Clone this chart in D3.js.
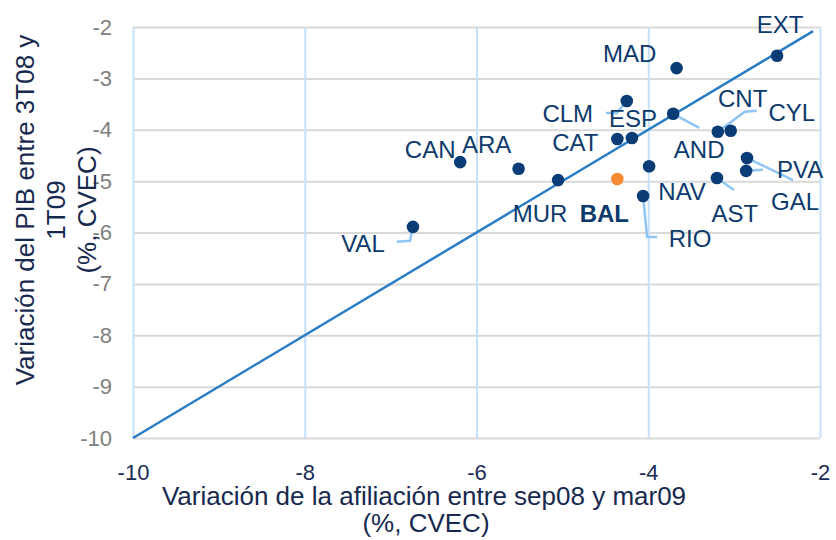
<!DOCTYPE html>
<html>
<head>
<meta charset="utf-8">
<script src="https://cdn.jsdelivr.net/npm/d3@7"></script>
<style>
  body { margin: 0; background: #fff; }
  svg { display: block; font-family: "Liberation Sans", Arial, sans-serif; }
</style>
</head>
<body>
<svg id="chart" width="836" height="540"></svg>
<script>
// Data: regional change in employment (x) vs GDP (y), % CVEC
const regions    = ['EXT', 'MAD', 'CLM', 'AND', 'CAT', 'ESP', 'CNT', 'CYL', 'PVA', 'GAL', 'AST', 'NAV', 'RIO', 'MUR', 'BAL', 'CAN', 'ARA', 'VAL'];
const afiliacion = [-2.50, -3.67, -4.25, -3.71, -4.36, -4.19, -3.04, -3.19, -2.86, -2.85, -3.20, -3.99, -4.06, -5.05, -4.36, -6.19, -5.51, -6.74];
const pib        = [-2.56, -2.80, -3.44, -3.69, -4.18, -4.16, -4.02, -4.04, -4.80, -4.55, -4.94, -4.71, -5.29, -4.98, -4.96, -4.63, -4.76, -5.89];
const highlight  = 'BAL';

const xTicks = [-10, -8, -6, -4, -2];
const yTicks = [-10, -9, -8, -7, -6, -5, -4, -3, -2];
const diagonal = [-10, -2.08]; // y = x reference line

(function() {
  const svg = d3.select('#chart');

  // plot box
  const left = 133, right = 820, top = 27, bottom = 438;

  const x = d3.scaleLinear().domain([-10, -2]).range([left, right]);
  const y = d3.scaleLinear().domain([-10, -2]).range([bottom, top]);

  // plain hyphen, like the original
  const fmt = d => String(d);

  // label placement (px offsets from the dot) and leader lines
  const layout = {
    EXT: { dx: 3,   dy: -23 },
    MAD: { dx: -47, dy: -6 },
    CLM: { dx: -59, dy: 21, lead: [[0, 0], [-10, 12], [-21, 12]] },
    AND: { dx: 26,  dy: 44, lead: [[0, 0], [26, 14]] },
    CAT: { dx: -42, dy: 12 },
    ESP: { dx: 1,   dy: -11 },
    CNT: { dx: 12,  dy: -24 },
    CYL: { dx: 74,  dy: -11, lead: [[0, 0], [27, -20], [39, -21]] },
    PVA: { dx: 54,  dy: 7,  lead: [[0, 0], [17, -1]] },
    GAL: { dx: 48,  dy: 52, lead: [[0, 0], [46, 22]] },
    AST: { dx: 18,  dy: 44, lead: [[0, 0], [17, 12]] },
    NAV: { dx: 33,  dy: 34 },
    RIO: { dx: 47,  dy: 51, lead: [[0, 0], [4, 41], [14, 41]] },
    MUR: { dx: -18, dy: 42 },
    BAL: { dx: -13, dy: 43 },
    CAN: { dx: -30, dy: -4 },
    ARA: { dx: -32, dy: -16 },
    VAL: { dx: -50, dy: 25, lead: [[0, 0], [-3, 14], [-16, 15]] }
  };

  const rows = regions.map((r, i) => ({ name: r, x: afiliacion[i], y: pib[i] }));

  // horizontal grid (gray)
  svg.append('g')
    .attr('transform', `translate(${left},0)`)
    .call(d3.axisLeft(y).tickValues(yTicks).tickSize(-(right - left)).tickFormat(''))
    .call(g => g.select('.domain').remove())
    .call(g => g.selectAll('line').attr('stroke', '#d9d9d9').attr('stroke-width', 2));

  // vertical grid (light blue)
  svg.append('g')
    .attr('transform', `translate(0,${bottom})`)
    .call(d3.axisBottom(x).tickValues(xTicks).tickSize(-(bottom - top)).tickFormat(''))
    .call(g => g.select('.domain').remove())
    .call(g => g.selectAll('line').attr('stroke', '#c5e0fb').attr('stroke-width', 2));

  // y tick labels
  svg.append('g')
    .attr('transform', `translate(${left},0)`)
    .call(d3.axisLeft(y).tickValues(yTicks).tickSize(0).tickPadding(21).tickFormat(fmt))
    .call(g => g.select('.domain').remove())
    .call(g => g.selectAll('text')
      .attr('fill', '#808080').attr('font-size', 22)
      .style('font-family', '"Liberation Sans", Arial, sans-serif'));

  // x tick labels
  svg.append('g')
    .attr('transform', `translate(0,${bottom})`)
    .call(d3.axisBottom(x).tickValues(xTicks).tickSize(0).tickPadding(26).tickFormat(fmt))
    .call(g => g.select('.domain').remove())
    .call(g => g.selectAll('text')
      .attr('fill', '#1a2c55').attr('font-size', 22)
      .style('font-family', '"Liberation Sans", Arial, sans-serif'));

  // diagonal reference
  svg.append('line')
    .attr('x1', x(diagonal[0])).attr('y1', y(diagonal[0]))
    .attr('x2', x(diagonal[1])).attr('y2', y(diagonal[1]))
    .attr('stroke', '#2a7dc5').attr('stroke-width', 2.5);

  // leader lines
  const leaderLine = d3.line();
  svg.append('g').selectAll('path')
    .data(rows.filter(d => layout[d.name].lead))
    .enter()
      .append('path')
      .attr('d', d => leaderLine(layout[d.name].lead.map(p => [x(d.x) + p[0], y(d.y) + p[1]])))
      .attr('fill', 'none')
      .attr('stroke', '#8ec5f3')
      .attr('stroke-width', 2.5);

  // dots
  svg.append('g').selectAll('circle')
    .data(rows)
    .enter()
      .append('circle')
      .attr('cx', d => x(d.x))
      .attr('cy', d => y(d.y))
      .attr('r', 6.3)
      .attr('fill', d => d.name === highlight ? '#f58a33' : '#0a3d75');

  // labels
  svg.append('g').selectAll('text')
    .data(rows)
    .enter()
      .append('text')
      .attr('x', d => x(d.x) + layout[d.name].dx)
      .attr('y', d => y(d.y) + layout[d.name].dy)
      .attr('text-anchor', 'middle')
      .attr('font-size', 24)
      .attr('font-weight', d => d.name === highlight ? 'bold' : 'normal')
      .attr('fill', '#0c3a6d')
      .text(d => d.name);

  // axis titles
  const xTitle = svg.append('text')
    .attr('text-anchor', 'middle')
    .attr('font-size', 26)
    .attr('fill', '#17294f');
  xTitle.append('tspan').attr('x', 424).attr('y', 505).text('Variación de la afiliación entre sep08 y mar09');
  xTitle.append('tspan').attr('x', 426).attr('y', 532).text('(%, CVEC)');

  const yTitle = svg.append('text')
    .attr('transform', 'translate(0,210) rotate(-90)')
    .attr('text-anchor', 'middle')
    .attr('font-size', 26)
    .attr('fill', '#17294f');
  yTitle.append('tspan').attr('x', 0).attr('y', 34).text('Variación del PIB entre 3T08 y');
  yTitle.append('tspan').attr('x', 0).attr('y', 65).text('1T09');
  yTitle.append('tspan').attr('x', 0).attr('y', 96).text('(%, CVEC)');
})();
</script>
</body>
</html>
